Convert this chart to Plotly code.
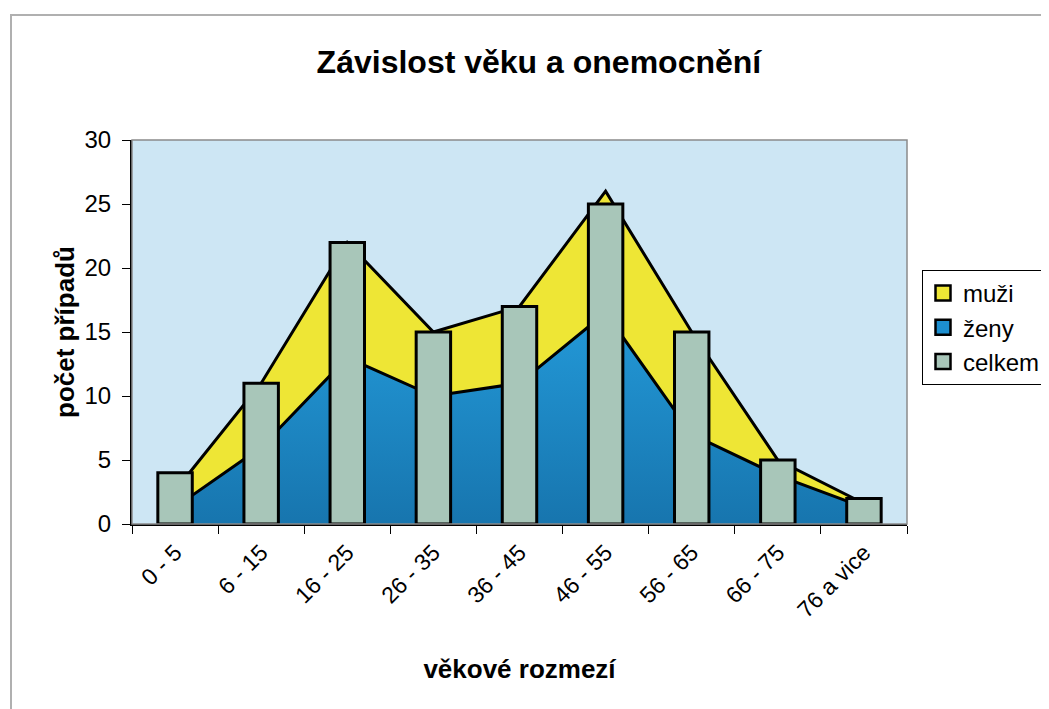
import plotly.graph_objects as go

categories = ["0 - 5", "6 - 15", "16 - 25", "26 - 35", "36 - 45", "46 - 55", "56 - 65", "66 - 75", "76 a vice"]
zeny = [1.3, 6, 13, 10, 11, 16.5, 7, 3.8, 1.3]
muzi = [1.3, 5, 9, 5, 6, 9.5, 8, 1.2, 0.3]
celkem = [4, 11, 22, 15, 17, 25, 15, 5, 2]

FONT = "Liberation Sans, Arial, sans-serif"
YELLOW = "#eee635"
BLUE = "#1d8fd0"
BARC = "#a8c6b9"

# browser body margin is 8px, so the figure is placed at (8, 8)
OFF = 8
W, H = 1049 - OFF, 709 - OFF
L, R, T, B = 132 - OFF, 142, 140 - OFF, 185
pw = W - L - R
ph = H - T - B

fig = go.Figure()
fig.add_trace(go.Scatter(
    x=categories, y=zeny, name="ženy", stackgroup="s", mode="lines",
    line=dict(color="black", width=3), fillcolor=BLUE,
    fillgradient=dict(type="vertical", colorscale=[[0, "#1775ae"], [1, "#2399d8"]]),
    showlegend=False))
fig.add_trace(go.Scatter(
    x=categories, y=muzi, name="muži", stackgroup="s", mode="lines",
    line=dict(color="black", width=3), fillcolor=YELLOW, showlegend=False))
fig.add_trace(go.Bar(
    x=categories, y=celkem, name="celkem", width=0.4, xaxis="x2", yaxis="y2",
    marker=dict(color=BARC, line=dict(color="black", width=3)), showlegend=False))

# legend entries (square swatches as in the reference)
for nm, col in [("muži", YELLOW), ("ženy", BLUE), ("celkem", BARC)]:
    fig.add_trace(go.Scatter(
        x=[None], y=[None], mode="markers", name=nm,
        marker=dict(symbol="square", size=15, color=col, line=dict(color="black", width=2.5))))

# outer chart border
fig.add_shape(type="rect", xref="paper", yref="paper",
              x0=(11 - OFF - L) / pw, x1=1 + (R + 20) / pw,
              y0=-(B + 20) / ph, y1=1 + (T - (15 - OFF)) / ph,
              line=dict(color="#b0b0b0", width=2), fillcolor="rgba(0,0,0,0)", layer="below")
# plot-area frame (gray top/right)
fig.add_shape(type="rect", xref="paper", yref="paper", x0=0, x1=1, y0=0, y1=1,
              line=dict(color="#8a8a8a", width=1.5), fillcolor="rgba(0,0,0,0)", layer="above")

fig.update_layout(
    width=W, height=H,
    margin=dict(l=L, r=R, t=T, b=B, autoexpand=False),
    paper_bgcolor="white",
    plot_bgcolor="#cde6f4",
    font=dict(family=FONT, color="black", size=23),
    title=dict(text="<b>Závislost věku a onemocnění</b>", x=0.51, xanchor="center",
               y=1 - (62 - OFF) / H, yanchor="middle", font=dict(size=32, family=FONT)),
    showlegend=True,
    legend=dict(x=(922 - OFF - L) / pw, xanchor="left", y=1 - (270 - OFF - T) / ph, yanchor="top",
                bordercolor="black", borderwidth=1, bgcolor="white",
                font=dict(size=24, family=FONT), itemwidth=30, traceorder="normal"),
    barmode="overlay",
    xaxis2=dict(overlaying="x", type="category", range=[-0.5, 8.5], visible=False),
    yaxis2=dict(overlaying="y", range=[0, 30], visible=False),
    xaxis=dict(type="category", tickangle=-45, tickson="boundaries", ticks="outside",
               ticklen=8, tickcolor="black", showline=True, linecolor="black", linewidth=2,
               tickfont=dict(size=23, family=FONT), ticklabelstandoff=4, automargin=False,
               title=dict(text="<b>věkové rozmezí</b>", font=dict(size=26, family=FONT), standoff=38),
               showgrid=False, range=[-0.5, 8.5]),
    yaxis=dict(range=[0, 30], dtick=5, ticks="outside", ticklen=8, tickcolor="black",
               showline=True, linecolor="black", linewidth=2, showgrid=False, automargin=False,
               zeroline=False, tickfont=dict(size=24, family=FONT), ticklabelstandoff=6,
               title=dict(text="<b>počet případů</b>", font=dict(size=26, family=FONT), standoff=2)),
)

fig.write_html("out.html")
